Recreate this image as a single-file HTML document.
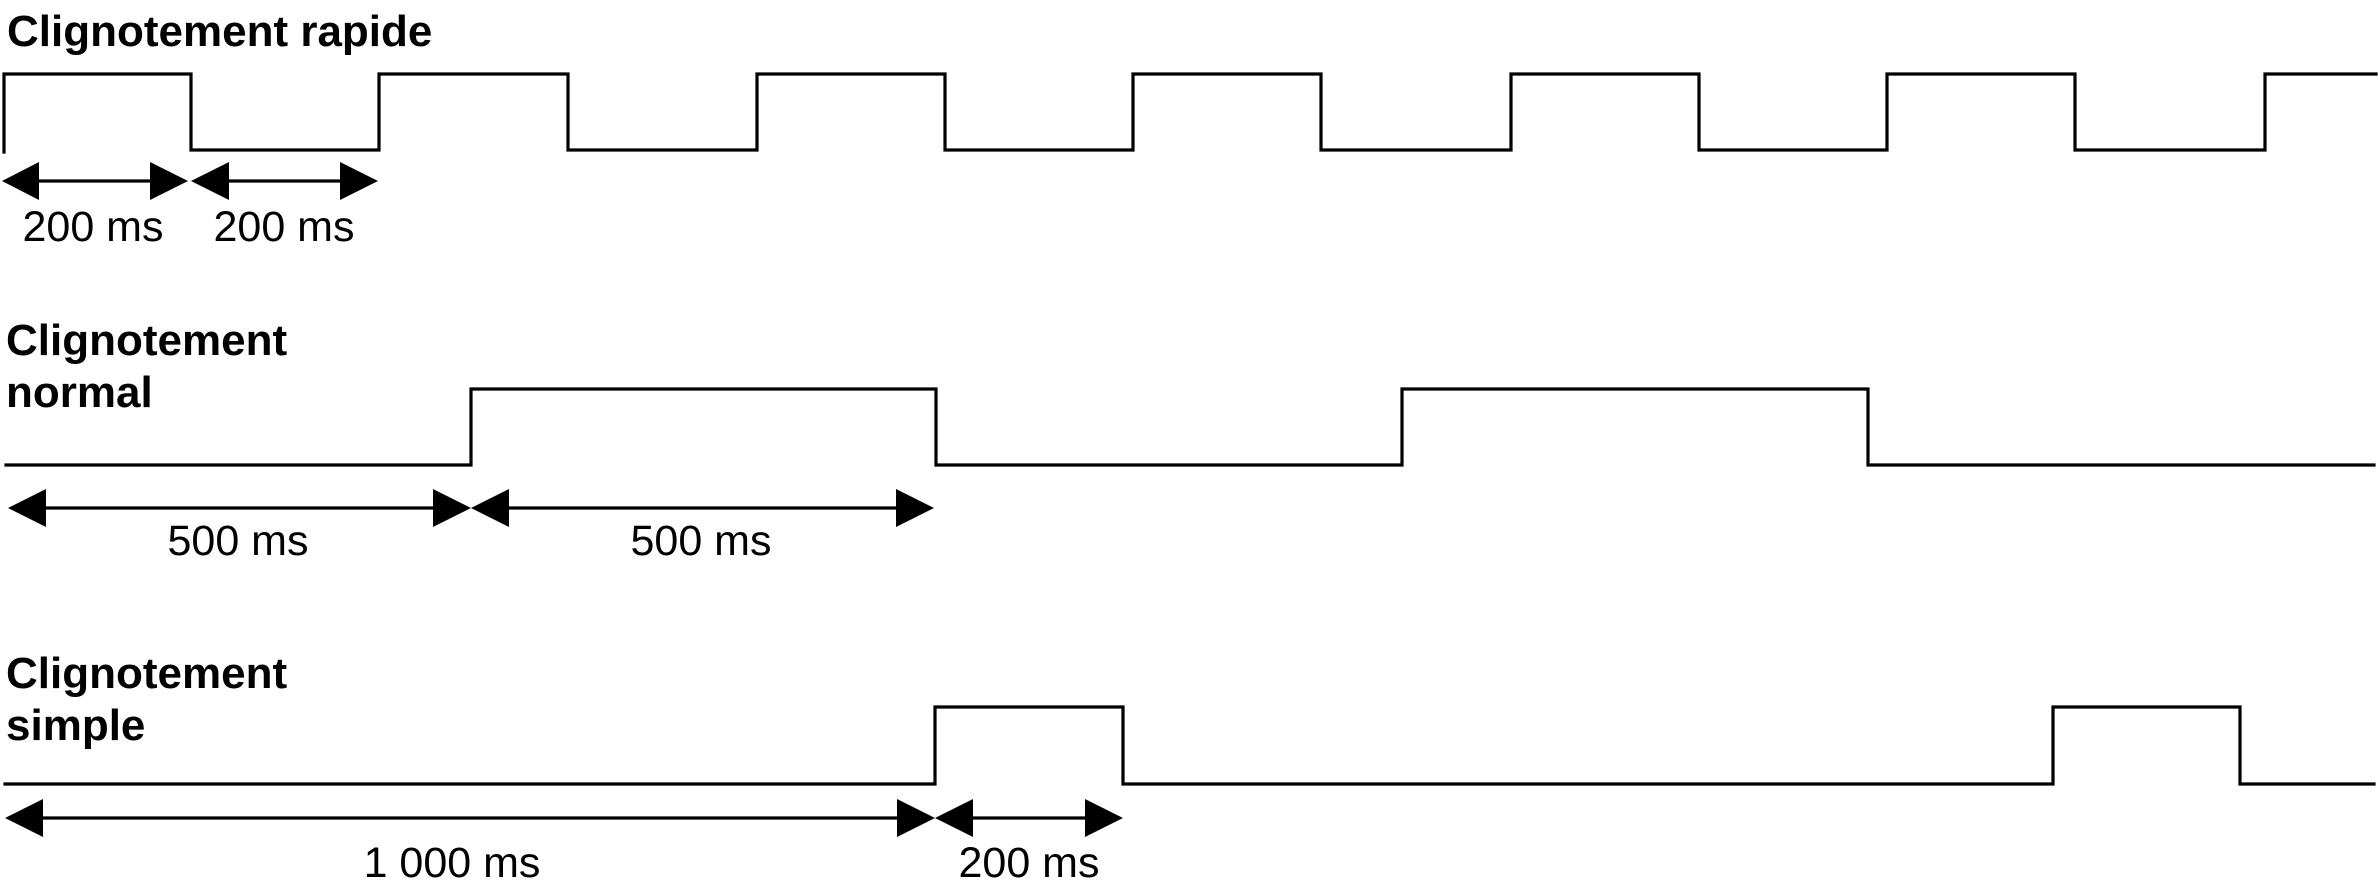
<!DOCTYPE html>
<html>
<head>
<meta charset="utf-8">
<style>
html,body{margin:0;padding:0;background:#fff;}
svg{display:block;}
.t{font-family:"Liberation Sans",Arial,sans-serif;font-weight:bold;font-size:44px;fill:#000;}
.l{font-family:"Liberation Sans",Arial,sans-serif;font-size:43px;fill:#000;}
</style>
</head>
<body>
<svg width="2378" height="892" viewBox="0 0 2378 892" xmlns="http://www.w3.org/2000/svg">
  <rect width="2378" height="892" fill="#fff"/>
  <!-- Titles -->
  <text class="t" x="7" y="46">Clignotement rapide</text>
  <text class="t" x="6" y="355">Clignotement</text>
  <text class="t" x="6" y="407">normal</text>
  <text class="t" x="6" y="688">Clignotement</text>
  <text class="t" x="6" y="740">simple</text>

  <!-- Waveforms -->
  <g fill="none" stroke="#000" stroke-width="3.2" stroke-linejoin="miter" stroke-linecap="square">
    <path d="M4,152 V74 H191 V150 H379 V74 H568 V150 H757 V74 H945 V150 H1133 V74 H1321 V150 H1511 V74 H1699 V150 H1887 V74 H2075 V150 H2265 V74 H2376"/>
    <path d="M6,465 H471 V389 H936 V465 H1402 V389 H1868 V465 H2374"/>
    <path d="M5,784 H935 V707 H1123 V784 H2053 V707 H2240 V784 H2374"/>
  </g>

  <!-- Arrows -->
  <g stroke="#000" stroke-width="3.2">
    <line x1="38" y1="181" x2="152" y2="181"/>
    <line x1="229" y1="181" x2="340" y2="181"/>
    <line x1="45" y1="508" x2="434" y2="508"/>
    <line x1="509" y1="508" x2="896" y2="508"/>
    <line x1="43" y1="818" x2="898" y2="818"/>
    <line x1="973" y1="818" x2="1085" y2="818"/>
  </g>
  <g fill="#000">
    <!-- top -->
    <polygon points="2,181 39,162 39,200"/>
    <polygon points="188,181 150,162 150,200"/>
    <polygon points="191,181 229,162 229,200"/>
    <polygon points="378,181 340,162 340,200"/>
    <!-- middle -->
    <polygon points="8,508 46,489 46,527"/>
    <polygon points="471,508 433,489 433,527"/>
    <polygon points="471,508 509,489 509,527"/>
    <polygon points="934,508 896,489 896,527"/>
    <!-- bottom -->
    <polygon points="5,818 43,799 43,837"/>
    <polygon points="935,818 897,799 897,837"/>
    <polygon points="935,818 973,799 973,837"/>
    <polygon points="1123,818 1085,799 1085,837"/>
  </g>

  <!-- Labels -->
  <text class="l" x="93" y="241" text-anchor="middle">200 ms</text>
  <text class="l" x="284" y="241" text-anchor="middle">200 ms</text>
  <text class="l" x="238" y="555" text-anchor="middle">500 ms</text>
  <text class="l" x="701" y="555" text-anchor="middle">500 ms</text>
  <text class="l" x="452" y="877" text-anchor="middle">1 000 ms</text>
  <text class="l" x="1029" y="877" text-anchor="middle">200 ms</text>
</svg>
</body>
</html>
